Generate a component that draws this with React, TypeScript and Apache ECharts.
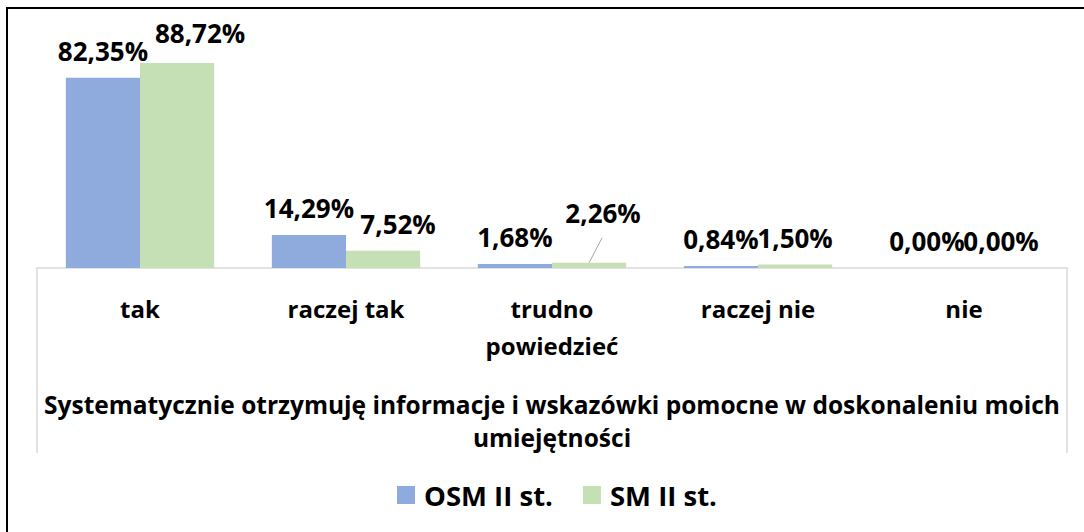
import React, { useEffect, useRef } from "react";
import * as echarts from "echarts";

const categories = ["tak", "raczej tak", "trudno\npowiedzieć", "raczej nie", "nie"];
const groupTitle = ["Systematycznie otrzymuję informacje i wskazówki pomocne w doskonaleniu moich\numiejętności"];
const osmValues = [82.35, 14.29, 1.68, 0.84, 0.0];
const smValues = [88.72, 7.52, 2.26, 1.5, 0.0];
const seriesNames = ["OSM II st.", "SM II st."];

const FONT = "'Open Sans', 'Noto Sans', sans-serif";

export default function App() {
  const ref = useRef<HTMLDivElement>(null);
  useEffect(() => {
    if (!ref.current) return;
    const chart = echarts.init(ref.current, undefined, { renderer: "svg" });
    const fmt = (p: any) => p.value.toFixed(2).replace(".", ",") + "%";
    const labelCommon = {
      show: true,
      position: "top",
      distance: 14,
      color: "#000",
      fontWeight: "bold",
      fontSize: 26,
      fontFamily: FONT,
      formatter: fmt,
    };
    const border = {
      type: "rect",
      shape: { x: 7, y: 8, width: 1200, height: 700 },
      style: { fill: "none", stroke: "#000", lineWidth: 2 },
      silent: true,
    };
    chart.setOption({
      animation: false,
      backgroundColor: "#fff",
      textStyle: { fontFamily: FONT },
      graphic: [border],
      grid: { left: 37, right: 17, top: 37, bottom: 264, containLabel: false },
      legend: {
        left: 392,
        top: 476,
        itemWidth: 18,
        itemHeight: 18,
        itemGap: 30,
        icon: "rect",
        textStyle: { fontSize: 27.5, fontWeight: "bold", color: "#000", fontFamily: FONT, padding: [0, 0, 0, 4] },
        data: seriesNames,
      },
      xAxis: [
        {
          type: "category",
          data: categories,
          position: "bottom",
          axisLine: { show: true, lineStyle: { color: "#d9d9d9", width: 1.5 } },
          axisTick: { show: false },
          axisLabel: {
            interval: 0,
            margin: 22,
            color: "#000",
            fontWeight: "bold",
            fontSize: 24,
            lineHeight: 37,
            fontFamily: FONT,
          },
        },
        {
          type: "category",
          data: groupTitle,
          position: "bottom",
          offset: 0,
          axisLine: { show: false },
          axisTick: { show: true, length: 185, lineStyle: { color: "#d9d9d9", width: 1.5 } },
          axisLabel: {
            interval: 0,
            margin: 120,
            color: "#000",
            fontWeight: "bold",
            fontSize: 24.5,
            lineHeight: 33,
            fontFamily: FONT,
            align: "center",
          },
        },
      ],
      yAxis: { type: "value", min: 0, max: 100, show: false, splitLine: { show: false } },
      series: [
        {
          name: seriesNames[0],
          type: "bar",
          xAxisIndex: 0,
          data: osmValues,
          barGap: "0%",
          barCategoryGap: "28%",
          itemStyle: { color: "#8faadc" },
          label: labelCommon,
        },
        {
          name: seriesNames[1],
          type: "bar",
          xAxisIndex: 0,
          data: smValues,
          barGap: "0%",
          barCategoryGap: "28%",
          itemStyle: { color: "#c5e0b4" },
          label: labelCommon,
          labelLine: { show: false },
          labelLayout: (p: any) => {
            if (p.dataIndex === 0) return { dx: 23, dy: -3 };
            if (p.dataIndex === 1) return { dx: 15, dy: 0 };
            if (p.dataIndex === 2) return { dx: 14, dy: -23 };
            return {};
          },
        },
      ],
    });
    // leader line for the moved "2,26%" label, anchored on the bar's own layout
    try {
      const data = (chart as any).getModel().getSeriesByIndex(1).getData();
      const lay = data.getItemLayout(2);
      if (lay) {
        const cx = lay.x + lay.width / 2;
        const top = Math.min(lay.y, lay.y + lay.height);
        chart.setOption({
          graphic: [
            border,
            {
              type: "line",
              shape: { x1: cx, y1: top, x2: cx + 13, y2: top - 25 },
              style: { stroke: "#a6a6a6", lineWidth: 1 },
              silent: true,
            },
          ],
        });
      }
    } catch (e) {
      // ignore
    }
    return () => chart.dispose();
  }, []);
  return (
    <div
      ref={ref}
      style={{ position: "fixed", left: 0, top: 0, width: 1084, height: 532 }}
    />
  );
}
